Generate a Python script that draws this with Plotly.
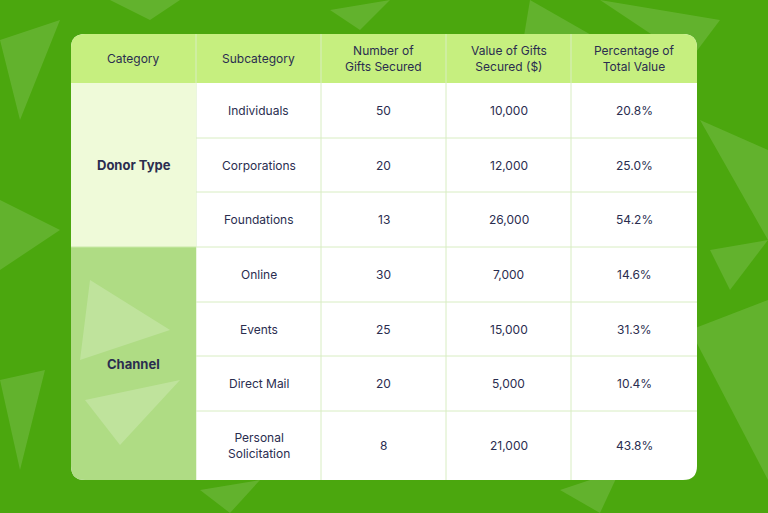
import plotly.graph_objs as go

headers = ["Category", "Subcategory", "Number of<br>Gifts Secured", "Value of Gifts<br>Secured ($)", "Percentage of<br>Total Value"]
categories = ["Donor Type", "Channel"]
category_rows = [3, 4]
subcategories = ["Individuals", "Corporations", "Foundations", "Online", "Events", "Direct Mail", "Personal<br>Solicitation"]
gifts = [50, 20, 13, 30, 25, 20, 8]
values = [10000, 12000, 26000, 7000, 15000, 5000, 21000]
percents = [20.8, 25.0, 54.2, 14.6, 31.3, 10.4, 43.8]

# layout geometry (pixels)
col_x = [71, 196, 321, 446, 571, 697]
header_top, header_bot = 34, 83
row_h = [55, 54, 55, 55, 54, 55, 69]
R = 14
BG = "#4ba70e"
HEAD = "#c6ef7f"
CAT_COLORS = ["#effad9", "#afdc84"]
GRID = "#d8edc2"
INK = "#2a2d4f"
FONT = "Inter"


def rpath(x0, y0, x1, y1, tl=0, tr=0, br=0, bl=0):
    p = f"M {x0+tl},{y0} L {x1-tr},{y0} "
    p += f"Q {x1},{y0} {x1},{y0+tr} " if tr else ""
    p += f"L {x1},{y1-br} "
    p += f"Q {x1},{y1} {x1-br},{y1} " if br else ""
    p += f"L {x0+bl},{y1} "
    p += f"Q {x0},{y1} {x0},{y1-bl} " if bl else ""
    p += f"L {x0},{y0+tl} "
    p += f"Q {x0},{y0} {x0+tl},{y0} " if tl else ""
    return p + "Z"


shapes = []
annotations = []

# decorative background triangles
tris = [
    [(0, 40), (60, 20), (20, 120)], [(110, 0), (180, 0), (150, 20)], [(330, 10), (390, 0), (360, 30)],
    [(530, 0), (600, 40), (520, 60)], [(600, 0), (720, 20), (690, 60)], [(700, 120), (768, 150), (768, 240)],
    [(710, 250), (768, 240), (730, 290)], [(690, 330), (768, 300), (768, 480)], [(0, 200), (60, 230), (0, 270)],
    [(0, 380), (45, 370), (20, 470)], [(560, 490), (620, 470), (600, 513)], [(200, 490), (260, 480), (230, 513)],
]
for t in tris:
    shapes.append(dict(type="path", xref="x", yref="y", line_width=0, fillcolor="rgba(255,255,255,0.13)",
                       path="M " + " L ".join(f"{a},{b}" for a, b in t) + " Z", layer="below"))

x0, x1 = col_x[0], col_x[-1]
row_y = [header_bot]
for h in row_h:
    row_y.append(row_y[-1] + h)
bottom = row_y[-1]

# white table body
shapes.append(dict(type="path", path=rpath(x0, header_top, x1, bottom, R, R, R, R), fillcolor="white", line_width=0))
# header
shapes.append(dict(type="path", path=rpath(x0, header_top, x1, header_bot, R, R, 0, 0), fillcolor=HEAD, line_width=0))
for i in range(1, len(col_x) - 1):
    shapes.append(dict(type="line", x0=col_x[i], x1=col_x[i], y0=header_top, y1=bottom, line=dict(color=GRID, width=1)))
for i, h in enumerate(headers):
    annotations.append(dict(x=(col_x[i] + col_x[i + 1]) / 2, y=(header_top + header_bot) / 2, text=h, showarrow=False,
                            font=dict(family=FONT, size=12, color=INK)))

# category cells
start = 0
for ci, (cat, n) in enumerate(zip(categories, category_rows)):
    ya, yb = row_y[start], row_y[start + n]
    last = ci == len(categories) - 1
    shapes.append(dict(type="path", path=rpath(x0, ya, col_x[1], yb, 0, 0, 0, R if last else 0),
                       fillcolor=CAT_COLORS[ci], line_width=0))
    annotations.append(dict(x=(x0 + col_x[1]) / 2, y=(ya + yb) / 2, text=f"<b>{cat}</b>", showarrow=False,
                            font=dict(family=FONT, size=13, color=INK)))
    start += n
# light triangles in the channel cell
for t in [[(90, 280), (170, 330), (80, 360)], [(85, 400), (180, 380), (120, 445)]]:
    shapes.append(dict(type="path", line_width=0, fillcolor="rgba(255,255,255,0.2)",
                       path="M " + " L ".join(f"{a},{b}" for a, b in t) + " Z"))

# row lines
for y in row_y[1:-1]:
    shapes.append(dict(type="line", x0=col_x[1], x1=x1, y0=y, y1=y, line=dict(color=GRID, width=1)))
shapes.append(dict(type="line", x0=x0, x1=col_x[1], y0=row_y[3], y1=row_y[3], line=dict(color="#c9e9a6", width=1)))

for r in range(len(subcategories)):
    yc = (row_y[r] + row_y[r + 1]) / 2
    cells = [subcategories[r], str(gifts[r]), f"{values[r]:,}", f"{percents[r]:.1f}%"]
    for c, txt in enumerate(cells):
        annotations.append(dict(x=(col_x[c + 1] + col_x[c + 2]) / 2, y=yc, text=txt, showarrow=False,
                                font=dict(family=FONT, size=12, color=INK)))

fig = go.Figure()
fig.update_layout(
    width=768, height=513, margin=dict(l=0, r=0, t=0, b=0),
    paper_bgcolor=BG, plot_bgcolor=BG,
    xaxis=dict(range=[0, 768], visible=False, fixedrange=True),
    yaxis=dict(range=[513, 0], visible=False, fixedrange=True),
    shapes=shapes, annotations=annotations, showlegend=False,
)
fig.write_html("out.html", config={"displayModeBar": False},
               post_script="document.body.style.margin='0';document.body.style.background='#4ba70e';")
